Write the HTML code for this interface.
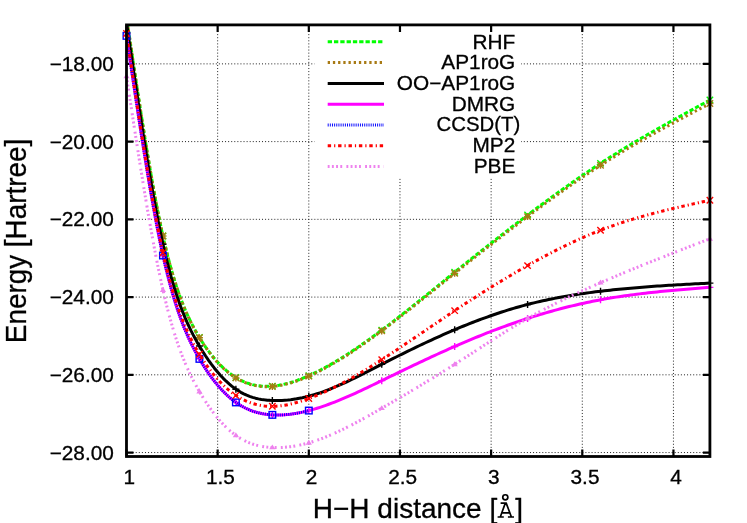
<!DOCTYPE html>
<html><head><meta charset="utf-8"><title>plot</title>
<style>
html,body{margin:0;padding:0;background:#fff;}
body{width:747px;height:523px;overflow:hidden;}
svg{display:block;will-change:transform;opacity:0.999;}
text{font-family:"Liberation Sans",sans-serif;fill:#000;stroke:#000;stroke-width:0.3px;}
</style></head><body>
<svg width="747" height="523" viewBox="0 0 747 523">
<rect width="747" height="523" fill="#fff"/>

<path d="M217.65,24.9V456.5M308.81,24.9V456.5M399.97,24.9V456.5M491.13,24.9V456.5M582.29,24.9V456.5M673.45,24.9V456.5M126.49,63.86H709.91M126.49,141.60H709.91M126.49,219.34H709.91M126.49,297.08H709.91M126.49,374.82H709.91M126.49,452.56H709.91" stroke="#222" stroke-width="1" stroke-dasharray="1 2.08" fill="none"/>
<rect x="314.5" y="27" width="206.5" height="150.5" fill="#fff"/>
<path d="M126.49,456.5V449.5M126.49,24.9V31.9M217.65,456.5V449.5M217.65,24.9V31.9M308.81,456.5V449.5M308.81,24.9V31.9M399.97,456.5V449.5M399.97,24.9V31.9M491.13,456.5V449.5M491.13,24.9V31.9M582.29,456.5V449.5M582.29,24.9V31.9M673.45,456.5V449.5M673.45,24.9V31.9M126.49,63.86H133.49M709.91,63.86H702.91M126.49,141.60H133.49M709.91,141.60H702.91M126.49,219.34H133.49M709.91,219.34H702.91M126.49,297.08H133.49M709.91,297.08H702.91M126.49,374.82H133.49M709.91,374.82H702.91M126.49,452.56H133.49M709.91,452.56H702.91" stroke="#000" stroke-width="2.2" fill="none"/>
<clipPath id="c"><rect x="126.49" y="24.9" width="587.42" height="431.60"/></clipPath>
<path d="M126.49,16.83 L129.42,36.66 L132.35,56.41 L135.29,75.99 L138.22,95.31 L141.15,114.28 L144.08,132.83 L147.01,150.85 L149.94,168.27 L152.88,185.00 L155.81,200.95 L158.74,216.05 L161.67,230.19 L164.60,243.30 L167.53,255.37 L170.47,266.48 L173.40,276.67 L176.33,286.02 L179.26,294.59 L182.19,302.44 L185.13,309.64 L188.06,316.25 L190.99,322.34 L193.92,327.97 L196.85,333.20 L199.78,338.10 L202.72,342.72 L205.65,347.07 L208.58,351.15 L211.51,354.98 L214.44,358.56 L217.38,361.88 L220.31,364.97 L223.24,367.82 L226.17,370.44 L229.10,372.83 L232.03,375.01 L234.97,376.97 L237.90,378.72 L240.83,380.28 L243.76,381.63 L246.69,382.80 L249.62,383.79 L252.56,384.61 L255.49,385.25 L258.42,385.74 L261.35,386.08 L264.28,386.27 L267.22,386.32 L270.15,386.24 L273.08,386.03 L276.01,385.70 L278.94,385.27 L281.87,384.72 L284.81,384.07 L287.74,383.33 L290.67,382.49 L293.60,381.57 L296.53,380.56 L299.46,379.48 L302.40,378.33 L305.33,377.12 L308.26,375.84 L311.19,374.51 L314.12,373.13 L317.06,371.70 L319.99,370.22 L322.92,368.69 L325.85,367.12 L328.78,365.49 L331.71,363.83 L334.65,362.13 L337.58,360.38 L340.51,358.59 L343.44,356.77 L346.37,354.91 L349.31,353.01 L352.24,351.08 L355.17,349.12 L358.10,347.13 L361.03,345.11 L363.96,343.06 L366.90,340.98 L369.83,338.88 L372.76,336.76 L375.69,334.61 L378.62,332.44 L381.55,330.26 L384.49,328.05 L387.42,325.83 L390.35,323.59 L393.28,321.34 L396.21,319.07 L399.15,316.79 L402.08,314.49 L405.01,312.18 L407.94,309.87 L410.87,307.54 L413.80,305.20 L416.74,302.86 L419.67,300.51 L422.60,298.15 L425.53,295.79 L428.46,293.42 L431.40,291.05 L434.33,288.67 L437.26,286.30 L440.19,283.92 L443.12,281.55 L446.05,279.17 L448.99,276.79 L451.92,274.42 L454.85,272.06 L457.78,269.69 L460.71,267.33 L463.64,264.98 L466.58,262.63 L469.51,260.28 L472.44,257.94 L475.37,255.61 L478.30,253.28 L481.24,250.96 L484.17,248.64 L487.10,246.33 L490.03,244.02 L492.96,241.72 L495.89,239.43 L498.83,237.14 L501.76,234.86 L504.69,232.59 L507.62,230.32 L510.55,228.06 L513.48,225.80 L516.42,223.56 L519.35,221.32 L522.28,219.09 L525.21,216.87 L528.14,214.65 L531.08,212.44 L534.01,210.24 L536.94,208.05 L539.87,205.87 L542.80,203.70 L545.73,201.53 L548.67,199.38 L551.60,197.24 L554.53,195.11 L557.46,192.99 L560.39,190.88 L563.33,188.78 L566.26,186.70 L569.19,184.63 L572.12,182.57 L575.05,180.52 L577.98,178.49 L580.92,176.47 L583.85,174.47 L586.78,172.48 L589.71,170.51 L592.64,168.55 L595.57,166.61 L598.51,164.68 L601.44,162.77 L604.37,160.88 L607.30,159.00 L610.23,157.14 L613.17,155.30 L616.10,153.46 L619.03,151.65 L621.96,149.84 L624.89,148.06 L627.82,146.28 L630.76,144.52 L633.69,142.76 L636.62,141.02 L639.55,139.30 L642.48,137.58 L645.41,135.87 L648.35,134.17 L651.28,132.48 L654.21,130.80 L657.14,129.13 L660.07,127.47 L663.01,125.82 L665.94,124.17 L668.87,122.53 L671.80,120.89 L674.73,119.26 L677.66,117.64 L680.60,116.02 L683.53,114.41 L686.46,112.80 L689.39,111.19 L692.32,109.59 L695.26,107.99 L698.19,106.39 L701.12,104.79 L704.05,103.20 L706.98,101.60 L709.91,100.01" stroke="#00ff00" stroke-width="3" stroke-dasharray="4.3 2" fill="none" stroke-linejoin="round" clip-path="url(#c)"/>
<path d="M159.75,232.85L166.15,239.25M159.75,239.25L166.15,232.85" stroke="#00ff00" stroke-width="1.4" fill="none"/>
<path d="M196.22,334.30L202.62,340.70M196.22,340.70L202.62,334.30" stroke="#00ff00" stroke-width="1.4" fill="none"/>
<path d="M232.68,374.34L239.08,380.74M232.68,380.74L239.08,374.34" stroke="#00ff00" stroke-width="1.4" fill="none"/>
<path d="M269.15,382.89L275.55,389.29M269.15,389.29L275.55,382.89" stroke="#00ff00" stroke-width="1.4" fill="none"/>
<path d="M305.61,372.40L312.01,378.80M305.61,378.80L312.01,372.40" stroke="#00ff00" stroke-width="1.4" fill="none"/>
<path d="M378.54,326.92L384.94,333.32M378.54,333.32L384.94,326.92" stroke="#00ff00" stroke-width="1.4" fill="none"/>
<path d="M451.47,269.00L457.87,275.40M451.47,275.40L457.87,269.00" stroke="#00ff00" stroke-width="1.4" fill="none"/>
<path d="M524.39,211.86L530.79,218.26M524.39,218.26L530.79,211.86" stroke="#00ff00" stroke-width="1.4" fill="none"/>
<path d="M597.32,160.17L603.72,166.57M597.32,166.57L603.72,160.17" stroke="#00ff00" stroke-width="1.4" fill="none"/>
<path d="M706.71,96.81L713.11,103.21M706.71,103.21L713.11,96.81" stroke="#00ff00" stroke-width="1.4" fill="none"/>
<path d="M126.49,16.83 L129.42,36.66 L132.35,56.41 L135.29,75.98 L138.22,95.30 L141.15,114.27 L144.08,132.81 L147.01,150.83 L149.94,168.25 L152.88,184.98 L155.81,200.94 L158.74,216.04 L161.67,230.18 L164.60,243.30 L167.53,255.39 L170.47,266.50 L173.40,276.71 L176.33,286.07 L179.26,294.66 L182.19,302.53 L185.13,309.74 L188.06,316.37 L190.99,322.48 L193.92,328.13 L196.85,333.38 L199.78,338.30 L202.72,342.94 L205.65,347.31 L208.58,351.41 L211.51,355.26 L214.44,358.85 L217.38,362.20 L220.31,365.30 L223.24,368.17 L226.17,370.80 L229.10,373.20 L232.03,375.39 L234.97,377.36 L237.90,379.12 L240.83,380.67 L243.76,382.03 L246.69,383.20 L249.62,384.18 L252.56,384.99 L255.49,385.64 L258.42,386.12 L261.35,386.46 L264.28,386.65 L267.22,386.70 L270.15,386.62 L273.08,386.42 L276.01,386.10 L278.94,385.68 L281.87,385.14 L284.81,384.51 L287.74,383.78 L290.67,382.96 L293.60,382.06 L296.53,381.07 L299.46,380.01 L302.40,378.88 L305.33,377.68 L308.26,376.42 L311.19,375.11 L314.12,373.74 L317.06,372.32 L319.99,370.85 L322.92,369.34 L325.85,367.77 L328.78,366.16 L331.71,364.50 L334.65,362.80 L337.58,361.06 L340.51,359.28 L343.44,357.47 L346.37,355.61 L349.31,353.72 L352.24,351.80 L355.17,349.84 L358.10,347.85 L361.03,345.84 L363.96,343.79 L366.90,341.72 L369.83,339.63 L372.76,337.51 L375.69,335.37 L378.62,333.21 L381.55,331.03 L384.49,328.84 L387.42,326.63 L390.35,324.40 L393.28,322.16 L396.21,319.90 L399.15,317.63 L402.08,315.35 L405.01,313.06 L407.94,310.76 L410.87,308.44 L413.80,306.12 L416.74,303.80 L419.67,301.46 L422.60,299.12 L425.53,296.77 L428.46,294.42 L431.40,292.07 L434.33,289.71 L437.26,287.36 L440.19,285.00 L443.12,282.64 L446.05,280.28 L448.99,277.93 L451.92,275.57 L454.85,273.22 L457.78,270.88 L460.71,268.54 L463.64,266.20 L466.58,263.87 L469.51,261.54 L472.44,259.22 L475.37,256.90 L478.30,254.59 L481.24,252.28 L484.17,249.98 L487.10,247.68 L490.03,245.39 L492.96,243.11 L495.89,240.83 L498.83,238.56 L501.76,236.29 L504.69,234.03 L507.62,231.78 L510.55,229.53 L513.48,227.30 L516.42,225.06 L519.35,222.84 L522.28,220.62 L525.21,218.41 L528.14,216.21 L531.08,214.01 L534.01,211.82 L536.94,209.65 L539.87,207.48 L542.80,205.32 L545.73,203.16 L548.67,201.02 L551.60,198.89 L554.53,196.78 L557.46,194.67 L560.39,192.57 L563.33,190.49 L566.26,188.42 L569.19,186.36 L572.12,184.32 L575.05,182.29 L577.98,180.27 L580.92,178.27 L583.85,176.29 L586.78,174.32 L589.71,172.37 L592.64,170.43 L595.57,168.51 L598.51,166.61 L601.44,164.72 L604.37,162.86 L607.30,161.01 L610.23,159.18 L613.17,157.36 L616.10,155.56 L619.03,153.78 L621.96,152.01 L624.89,150.25 L627.82,148.51 L630.76,146.78 L633.69,145.07 L636.62,143.37 L639.55,141.68 L642.48,140.00 L645.41,138.33 L648.35,136.68 L651.28,135.03 L654.21,133.40 L657.14,131.77 L660.07,130.15 L663.01,128.54 L665.94,126.94 L668.87,125.34 L671.80,123.76 L674.73,122.17 L677.66,120.60 L680.60,119.03 L683.53,117.46 L686.46,115.90 L689.39,114.34 L692.32,112.79 L695.26,111.24 L698.19,109.69 L701.12,108.14 L704.05,106.60 L706.98,105.05 L709.91,103.51" stroke="#a87a14" stroke-width="3" stroke-dasharray="2.3 2.9" fill="none" stroke-linejoin="round" clip-path="url(#c)"/>
<path d="M159.45,236.05H166.45M162.95,232.55V239.55" stroke="#a87a14" stroke-width="1.4" fill="none"/><path d="M159.75,232.85L166.15,239.25M159.75,239.25L166.15,232.85" stroke="#a87a14" stroke-width="1.4" fill="none"/>
<path d="M195.92,337.70H202.92M199.42,334.20V341.20" stroke="#a87a14" stroke-width="1.4" fill="none"/><path d="M196.22,334.50L202.62,340.90M196.22,340.90L202.62,334.50" stroke="#a87a14" stroke-width="1.4" fill="none"/>
<path d="M232.38,377.93H239.38M235.88,374.43V381.43" stroke="#a87a14" stroke-width="1.4" fill="none"/><path d="M232.68,374.73L239.08,381.13M232.68,381.13L239.08,374.73" stroke="#a87a14" stroke-width="1.4" fill="none"/>
<path d="M268.85,386.48H275.85M272.35,382.98V389.98" stroke="#a87a14" stroke-width="1.4" fill="none"/><path d="M269.15,383.28L275.55,389.68M269.15,389.68L275.55,383.28" stroke="#a87a14" stroke-width="1.4" fill="none"/>
<path d="M305.31,376.18H312.31M308.81,372.68V379.68" stroke="#a87a14" stroke-width="1.4" fill="none"/><path d="M305.61,372.98L312.01,379.38M305.61,379.38L312.01,372.98" stroke="#a87a14" stroke-width="1.4" fill="none"/>
<path d="M378.24,330.90H385.24M381.74,327.40V334.40" stroke="#a87a14" stroke-width="1.4" fill="none"/><path d="M378.54,327.70L384.94,334.10M378.54,334.10L384.94,327.70" stroke="#a87a14" stroke-width="1.4" fill="none"/>
<path d="M451.17,273.37H458.17M454.67,269.87V276.87" stroke="#a87a14" stroke-width="1.4" fill="none"/><path d="M451.47,270.17L457.87,276.57M451.47,276.57L457.87,270.17" stroke="#a87a14" stroke-width="1.4" fill="none"/>
<path d="M524.09,216.62H531.09M527.59,213.12V220.12" stroke="#a87a14" stroke-width="1.4" fill="none"/><path d="M524.39,213.42L530.79,219.82M524.39,219.82L530.79,213.42" stroke="#a87a14" stroke-width="1.4" fill="none"/>
<path d="M597.02,165.31H604.02M600.52,161.81V168.81" stroke="#a87a14" stroke-width="1.4" fill="none"/><path d="M597.32,162.11L603.72,168.51M597.32,168.51L603.72,162.11" stroke="#a87a14" stroke-width="1.4" fill="none"/>
<path d="M706.41,103.51H713.41M709.91,100.01V107.01" stroke="#a87a14" stroke-width="1.4" fill="none"/><path d="M706.71,100.31L713.11,106.71M706.71,106.71L713.11,100.31" stroke="#a87a14" stroke-width="1.4" fill="none"/>
<path d="M126.49,22.66 L129.42,42.74 L132.35,62.74 L135.29,82.55 L138.22,102.10 L141.15,121.30 L144.08,140.06 L147.01,158.28 L149.94,175.88 L152.88,192.77 L155.81,208.87 L158.74,224.08 L161.67,238.32 L164.60,251.50 L167.53,263.61 L170.47,274.74 L173.40,284.94 L176.33,294.28 L179.26,302.84 L182.19,310.69 L185.13,317.90 L188.06,324.52 L190.99,330.64 L193.92,336.33 L196.85,341.65 L199.78,346.67 L202.72,351.45 L205.65,355.99 L208.58,360.30 L211.51,364.37 L214.44,368.21 L217.38,371.82 L220.31,375.19 L223.24,378.33 L226.17,381.23 L229.10,383.91 L232.03,386.35 L234.97,388.56 L237.90,390.54 L240.83,392.30 L243.76,393.84 L246.69,395.20 L249.62,396.36 L252.56,397.35 L255.49,398.18 L258.42,398.87 L261.35,399.42 L264.28,399.84 L267.22,400.15 L270.15,400.37 L273.08,400.50 L276.01,400.55 L278.94,400.53 L281.87,400.43 L284.81,400.25 L287.74,400.01 L290.67,399.69 L293.60,399.30 L296.53,398.85 L299.46,398.32 L302.40,397.73 L305.33,397.07 L308.26,396.34 L311.19,395.55 L314.12,394.70 L317.06,393.79 L319.99,392.82 L322.92,391.80 L325.85,390.72 L328.78,389.60 L331.71,388.44 L334.65,387.23 L337.58,385.98 L340.51,384.70 L343.44,383.38 L346.37,382.03 L349.31,380.65 L352.24,379.24 L355.17,377.82 L358.10,376.37 L361.03,374.91 L363.96,373.43 L366.90,371.94 L369.83,370.44 L372.76,368.94 L375.69,367.43 L378.62,365.92 L381.55,364.42 L384.49,362.92 L387.42,361.43 L390.35,359.94 L393.28,358.46 L396.21,356.99 L399.15,355.52 L402.08,354.06 L405.01,352.62 L407.94,351.17 L410.87,349.74 L413.80,348.32 L416.74,346.91 L419.67,345.51 L422.60,344.12 L425.53,342.74 L428.46,341.37 L431.40,340.02 L434.33,338.68 L437.26,337.34 L440.19,336.03 L443.12,334.72 L446.05,333.43 L448.99,332.16 L451.92,330.90 L454.85,329.65 L457.78,328.42 L460.71,327.21 L463.64,326.01 L466.58,324.83 L469.51,323.67 L472.44,322.52 L475.37,321.39 L478.30,320.27 L481.24,319.18 L484.17,318.10 L487.10,317.04 L490.03,316.00 L492.96,314.98 L495.89,313.98 L498.83,313.00 L501.76,312.04 L504.69,311.10 L507.62,310.18 L510.55,309.27 L513.48,308.40 L516.42,307.54 L519.35,306.70 L522.28,305.89 L525.21,305.09 L528.14,304.32 L531.08,303.57 L534.01,302.85 L536.94,302.15 L539.87,301.46 L542.80,300.80 L545.73,300.16 L548.67,299.54 L551.60,298.93 L554.53,298.35 L557.46,297.78 L560.39,297.23 L563.33,296.70 L566.26,296.19 L569.19,295.69 L572.12,295.21 L575.05,294.74 L577.98,294.29 L580.92,293.85 L583.85,293.42 L586.78,293.01 L589.71,292.62 L592.64,292.23 L595.57,291.86 L598.51,291.49 L601.44,291.14 L604.37,290.80 L607.30,290.47 L610.23,290.15 L613.17,289.84 L616.10,289.53 L619.03,289.24 L621.96,288.95 L624.89,288.68 L627.82,288.41 L630.76,288.15 L633.69,287.90 L636.62,287.65 L639.55,287.42 L642.48,287.18 L645.41,286.96 L648.35,286.74 L651.28,286.53 L654.21,286.32 L657.14,286.12 L660.07,285.92 L663.01,285.73 L665.94,285.54 L668.87,285.36 L671.80,285.18 L674.73,285.01 L677.66,284.84 L680.60,284.67 L683.53,284.50 L686.46,284.34 L689.39,284.18 L692.32,284.02 L695.26,283.86 L698.19,283.70 L701.12,283.55 L704.05,283.39 L706.98,283.24 L709.91,283.09" stroke="#000" stroke-width="3" fill="none" stroke-linejoin="round" clip-path="url(#c)"/>
<path d="M159.45,244.22H166.45M162.95,240.72V247.72" stroke="#000" stroke-width="1.4" fill="none"/>
<path d="M195.92,346.06H202.92M199.42,342.56V349.56" stroke="#000" stroke-width="1.4" fill="none"/>
<path d="M232.38,389.20H239.38M235.88,385.70V392.70" stroke="#000" stroke-width="1.4" fill="none"/>
<path d="M268.85,400.47H275.85M272.35,396.97V403.97" stroke="#000" stroke-width="1.4" fill="none"/>
<path d="M305.31,396.20H312.31M308.81,392.70V399.70" stroke="#000" stroke-width="1.4" fill="none"/>
<path d="M378.24,364.33H385.24M381.74,360.83V367.83" stroke="#000" stroke-width="1.4" fill="none"/>
<path d="M451.17,329.73H458.17M454.67,326.23V333.23" stroke="#000" stroke-width="1.4" fill="none"/>
<path d="M524.09,304.47H531.09M527.59,300.97V307.97" stroke="#000" stroke-width="1.4" fill="none"/>
<path d="M597.02,291.25H604.02M600.52,287.75V294.75" stroke="#000" stroke-width="1.4" fill="none"/>
<path d="M706.41,283.09H713.41M709.91,279.59V286.59" stroke="#000" stroke-width="1.4" fill="none"/>
<path d="M126.49,35.87 L129.42,55.72 L132.35,75.48 L135.29,95.06 L138.22,114.39 L141.15,133.38 L144.08,151.95 L147.01,170.00 L149.94,187.45 L152.88,204.22 L155.81,220.23 L158.74,235.38 L161.67,249.59 L164.60,262.78 L167.53,274.95 L170.47,286.16 L173.40,296.47 L176.33,305.94 L179.26,314.65 L182.19,322.66 L185.13,330.02 L188.06,336.82 L190.99,343.09 L193.92,348.93 L196.85,354.38 L199.78,359.51 L202.72,364.37 L205.65,368.98 L208.58,373.33 L211.51,377.43 L214.44,381.29 L217.38,384.91 L220.31,388.29 L223.24,391.43 L226.17,394.35 L229.10,397.04 L232.03,399.51 L234.97,401.76 L237.90,403.80 L240.83,405.63 L243.76,407.27 L246.69,408.72 L249.62,409.99 L252.56,411.09 L255.49,412.04 L258.42,412.83 L261.35,413.49 L264.28,414.01 L267.22,414.42 L270.15,414.71 L273.08,414.89 L276.01,414.99 L278.94,414.99 L281.87,414.90 L284.81,414.73 L287.74,414.48 L290.67,414.15 L293.60,413.74 L296.53,413.27 L299.46,412.72 L302.40,412.12 L305.33,411.45 L308.26,410.72 L311.19,409.94 L314.12,409.11 L317.06,408.23 L319.99,407.31 L322.92,406.33 L325.85,405.32 L328.78,404.26 L331.71,403.17 L334.65,402.04 L337.58,400.87 L340.51,399.68 L343.44,398.45 L346.37,397.19 L349.31,395.91 L352.24,394.61 L355.17,393.28 L358.10,391.94 L361.03,390.57 L363.96,389.20 L366.90,387.81 L369.83,386.41 L372.76,385.00 L375.69,383.58 L378.62,382.16 L381.55,380.74 L384.49,379.32 L387.42,377.90 L390.35,376.47 L393.28,375.05 L396.21,373.64 L399.15,372.22 L402.08,370.81 L405.01,369.40 L407.94,368.00 L410.87,366.59 L413.80,365.20 L416.74,363.81 L419.67,362.42 L422.60,361.04 L425.53,359.66 L428.46,358.30 L431.40,356.94 L434.33,355.58 L437.26,354.24 L440.19,352.90 L443.12,351.58 L446.05,350.26 L448.99,348.95 L451.92,347.65 L454.85,346.36 L457.78,345.09 L460.71,343.82 L463.64,342.57 L466.58,341.33 L469.51,340.10 L472.44,338.88 L475.37,337.68 L478.30,336.49 L481.24,335.31 L484.17,334.14 L487.10,332.98 L490.03,331.84 L492.96,330.71 L495.89,329.60 L498.83,328.50 L501.76,327.41 L504.69,326.34 L507.62,325.28 L510.55,324.24 L513.48,323.21 L516.42,322.19 L519.35,321.19 L522.28,320.21 L525.21,319.24 L528.14,318.28 L531.08,317.34 L534.01,316.42 L536.94,315.51 L539.87,314.62 L542.80,313.74 L545.73,312.88 L548.67,312.04 L551.60,311.21 L554.53,310.40 L557.46,309.60 L560.39,308.82 L563.33,308.06 L566.26,307.31 L569.19,306.58 L572.12,305.87 L575.05,305.17 L577.98,304.49 L580.92,303.82 L583.85,303.17 L586.78,302.54 L589.71,301.92 L592.64,301.33 L595.57,300.74 L598.51,300.18 L601.44,299.63 L604.37,299.10 L607.30,298.59 L610.23,298.09 L613.17,297.60 L616.10,297.14 L619.03,296.68 L621.96,296.24 L624.89,295.82 L627.82,295.40 L630.76,295.00 L633.69,294.62 L636.62,294.24 L639.55,293.88 L642.48,293.52 L645.41,293.18 L648.35,292.85 L651.28,292.52 L654.21,292.21 L657.14,291.90 L660.07,291.61 L663.01,291.32 L665.94,291.03 L668.87,290.76 L671.80,290.49 L674.73,290.23 L677.66,289.97 L680.60,289.72 L683.53,289.47 L686.46,289.22 L689.39,288.98 L692.32,288.75 L695.26,288.51 L698.19,288.28 L701.12,288.05 L704.05,287.82 L706.98,287.59 L709.91,287.36" stroke="#ff00ff" stroke-width="3" fill="none" stroke-linejoin="round" clip-path="url(#c)"/>
<path d="M122.99,35.87H129.99M126.49,32.37V39.37" stroke="#ff00ff" stroke-width="1.4" fill="none"/>
<path d="M159.45,255.49H166.45M162.95,251.99V258.99" stroke="#ff00ff" stroke-width="1.4" fill="none"/>
<path d="M195.92,358.88H202.92M199.42,355.38V362.38" stroke="#ff00ff" stroke-width="1.4" fill="none"/>
<path d="M232.38,402.42H239.38M235.88,398.92V405.92" stroke="#ff00ff" stroke-width="1.4" fill="none"/>
<path d="M268.85,414.86H275.85M272.35,411.36V418.36" stroke="#ff00ff" stroke-width="1.4" fill="none"/>
<path d="M305.31,410.58H312.31M308.81,407.08V414.08" stroke="#ff00ff" stroke-width="1.4" fill="none"/>
<path d="M378.24,380.65H385.24M381.74,377.15V384.15" stroke="#ff00ff" stroke-width="1.4" fill="none"/>
<path d="M451.17,346.44H458.17M454.67,342.94V349.94" stroke="#ff00ff" stroke-width="1.4" fill="none"/>
<path d="M524.09,318.46H531.09M527.59,314.96V321.96" stroke="#ff00ff" stroke-width="1.4" fill="none"/>
<path d="M597.02,299.80H604.02M600.52,296.30V303.30" stroke="#ff00ff" stroke-width="1.4" fill="none"/>
<path d="M706.41,287.36H713.41M709.91,283.86V290.86" stroke="#ff00ff" stroke-width="1.4" fill="none"/>
<path d="M126.49,35.87 L128.54,49.74 L130.59,63.59 L132.64,77.37 L134.68,91.06 L136.73,104.64 L138.78,118.08 L140.83,131.34 L142.88,144.39 L144.93,157.21 L146.98,169.77 L149.02,182.04 L151.07,193.99 L153.12,205.59 L155.17,216.81 L157.22,227.63 L159.27,238.00 L161.32,247.92 L163.36,257.33 L165.41,266.24 L167.46,274.65 L169.51,282.60 L171.56,290.09 L173.61,297.16 L175.65,303.83 L177.70,310.11 L179.75,316.04 L181.80,321.62 L183.85,326.89 L185.90,331.87 L187.95,336.57 L189.99,341.02 L192.04,345.24 L194.09,349.26 L196.14,353.09 L198.19,356.75 L200.24,360.28 L202.29,363.68 L204.33,366.95 L206.38,370.09 L208.43,373.12 L210.48,376.02 L212.53,378.80 L214.58,381.46 L216.63,384.01 L218.67,386.43 L220.72,388.75 L222.77,390.95 L224.82,393.03 L226.87,395.01 L228.92,396.87 L230.97,398.63 L233.01,400.28 L235.06,401.83 L237.11,403.27 L239.16,404.61 L241.21,405.85 L243.26,407.00 L245.31,408.05 L247.35,409.02 L249.40,409.90 L251.45,410.69 L253.50,411.41 L255.55,412.05 L257.60,412.62 L259.65,413.12 L261.69,413.56 L263.74,413.92 L265.79,414.23 L267.84,414.49 L269.89,414.68 L271.94,414.83 L273.98,414.93 L276.03,414.99 L278.08,415.00 L280.13,414.96 L282.18,414.89 L284.23,414.77 L286.28,414.61 L288.32,414.42 L290.37,414.18 L292.42,413.91 L294.47,413.61 L296.52,413.27 L298.57,412.90 L300.62,412.49 L302.66,412.06 L304.71,411.59 L306.76,411.10 L308.81,410.58" stroke="#0000ff" stroke-width="3" stroke-dasharray="0.95 1.2" fill="none" stroke-linejoin="round" clip-path="url(#c)"/>
<rect x="123.19" y="32.57" width="6.60" height="6.60" stroke="#0000ff" stroke-width="1.4" fill="none"/>
<rect x="159.65" y="252.19" width="6.60" height="6.60" stroke="#0000ff" stroke-width="1.4" fill="none"/>
<rect x="196.12" y="355.58" width="6.60" height="6.60" stroke="#0000ff" stroke-width="1.4" fill="none"/>
<rect x="232.58" y="399.12" width="6.60" height="6.60" stroke="#0000ff" stroke-width="1.4" fill="none"/>
<rect x="269.05" y="411.56" width="6.60" height="6.60" stroke="#0000ff" stroke-width="1.4" fill="none"/>
<rect x="305.51" y="407.28" width="6.60" height="6.60" stroke="#0000ff" stroke-width="1.4" fill="none"/>
<path d="M126.49,33.54 L129.42,53.38 L132.35,73.14 L135.29,92.72 L138.22,112.04 L141.15,131.02 L144.08,149.56 L147.01,167.59 L149.94,185.01 L152.88,201.74 L155.81,217.69 L158.74,232.77 L161.67,246.91 L164.60,260.01 L167.53,272.07 L170.47,283.16 L173.40,293.34 L176.33,302.68 L179.26,311.24 L182.19,319.08 L185.13,326.28 L188.06,332.89 L190.99,338.99 L193.92,344.63 L196.85,349.89 L199.78,354.82 L202.72,359.48 L205.65,363.88 L208.58,368.03 L211.51,371.92 L214.44,375.58 L217.38,378.99 L220.31,382.18 L223.24,385.14 L226.17,387.87 L229.10,390.39 L232.03,392.70 L234.97,394.80 L237.90,396.71 L240.83,398.42 L243.76,399.94 L246.69,401.29 L249.62,402.46 L252.56,403.46 L255.49,404.30 L258.42,404.98 L261.35,405.52 L264.28,405.91 L267.22,406.16 L270.15,406.29 L273.08,406.29 L276.01,406.18 L278.94,405.95 L281.87,405.62 L284.81,405.19 L287.74,404.66 L290.67,404.04 L293.60,403.33 L296.53,402.55 L299.46,401.69 L302.40,400.77 L305.33,399.78 L308.26,398.73 L311.19,397.63 L314.12,396.49 L317.06,395.29 L319.99,394.05 L322.92,392.76 L325.85,391.43 L328.78,390.06 L331.71,388.64 L334.65,387.19 L337.58,385.69 L340.51,384.17 L343.44,382.60 L346.37,381.01 L349.31,379.38 L352.24,377.72 L355.17,376.03 L358.10,374.32 L361.03,372.57 L363.96,370.81 L366.90,369.02 L369.83,367.21 L372.76,365.38 L375.69,363.53 L378.62,361.66 L381.55,359.78 L384.49,357.88 L387.42,355.97 L390.35,354.05 L393.28,352.12 L396.21,350.17 L399.15,348.22 L402.08,346.26 L405.01,344.29 L407.94,342.31 L410.87,340.33 L413.80,338.34 L416.74,336.35 L419.67,334.36 L422.60,332.37 L425.53,330.37 L428.46,328.37 L431.40,326.38 L434.33,324.38 L437.26,322.39 L440.19,320.41 L443.12,318.43 L446.05,316.45 L448.99,314.48 L451.92,312.52 L454.85,310.56 L457.78,308.62 L460.71,306.68 L463.64,304.76 L466.58,302.84 L469.51,300.94 L472.44,299.04 L475.37,297.16 L478.30,295.28 L481.24,293.42 L484.17,291.57 L487.10,289.73 L490.03,287.90 L492.96,286.09 L495.89,284.28 L498.83,282.49 L501.76,280.71 L504.69,278.94 L507.62,277.19 L510.55,275.45 L513.48,273.72 L516.42,272.00 L519.35,270.30 L522.28,268.62 L525.21,266.94 L528.14,265.29 L531.08,263.64 L534.01,262.01 L536.94,260.40 L539.87,258.80 L542.80,257.22 L545.73,255.66 L548.67,254.11 L551.60,252.58 L554.53,251.08 L557.46,249.59 L560.39,248.12 L563.33,246.66 L566.26,245.23 L569.19,243.83 L572.12,242.44 L575.05,241.07 L577.98,239.73 L580.92,238.41 L583.85,237.12 L586.78,235.85 L589.71,234.60 L592.64,233.38 L595.57,232.18 L598.51,231.01 L601.44,229.87 L604.37,228.75 L607.30,227.66 L610.23,226.60 L613.17,225.56 L616.10,224.54 L619.03,223.55 L621.96,222.58 L624.89,221.63 L627.82,220.70 L630.76,219.79 L633.69,218.90 L636.62,218.03 L639.55,217.18 L642.48,216.35 L645.41,215.53 L648.35,214.73 L651.28,213.94 L654.21,213.17 L657.14,212.41 L660.07,211.67 L663.01,210.93 L665.94,210.21 L668.87,209.50 L671.80,208.80 L674.73,208.11 L677.66,207.43 L680.60,206.76 L683.53,206.09 L686.46,205.43 L689.39,204.77 L692.32,204.12 L695.26,203.48 L698.19,202.84 L701.12,202.20 L704.05,201.56 L706.98,200.93 L709.91,200.29" stroke="#ff0000" stroke-width="3" stroke-dasharray="3.4 3 1.2 2.8" fill="none" stroke-linejoin="round" clip-path="url(#c)"/>
<path d="M123.29,30.34L129.69,36.74M123.29,36.74L129.69,30.34" stroke="#ff0000" stroke-width="1.4" fill="none"/>
<path d="M159.75,249.57L166.15,255.97M159.75,255.97L166.15,249.57" stroke="#ff0000" stroke-width="1.4" fill="none"/>
<path d="M196.22,351.02L202.62,357.42M196.22,357.42L202.62,351.02" stroke="#ff0000" stroke-width="1.4" fill="none"/>
<path d="M232.68,392.22L239.08,398.62M232.68,398.62L239.08,392.22" stroke="#ff0000" stroke-width="1.4" fill="none"/>
<path d="M269.15,403.10L275.55,409.50M269.15,409.50L275.55,403.10" stroke="#ff0000" stroke-width="1.4" fill="none"/>
<path d="M305.61,395.33L312.01,401.73M305.61,401.73L312.01,395.33" stroke="#ff0000" stroke-width="1.4" fill="none"/>
<path d="M378.54,356.46L384.94,362.86M378.54,362.86L384.94,356.46" stroke="#ff0000" stroke-width="1.4" fill="none"/>
<path d="M451.47,307.48L457.87,313.88M451.47,313.88L457.87,307.48" stroke="#ff0000" stroke-width="1.4" fill="none"/>
<path d="M524.39,262.40L530.79,268.80M524.39,268.80L530.79,262.40" stroke="#ff0000" stroke-width="1.4" fill="none"/>
<path d="M597.32,227.02L603.72,233.42M597.32,233.42L603.72,227.02" stroke="#ff0000" stroke-width="1.4" fill="none"/>
<path d="M706.71,197.09L713.11,203.49M706.71,203.49L713.11,197.09" stroke="#ff0000" stroke-width="1.4" fill="none"/>
<path d="M126.49,76.30 L129.42,95.60 L132.35,114.83 L135.29,133.89 L138.22,152.70 L141.15,171.18 L144.08,189.24 L147.01,206.81 L149.94,223.80 L152.88,240.13 L155.81,255.72 L158.74,270.48 L161.67,284.33 L164.60,297.19 L167.53,309.07 L170.47,320.01 L173.40,330.08 L176.33,339.35 L179.26,347.89 L182.19,355.74 L185.13,362.98 L188.06,369.67 L190.99,375.86 L193.92,381.64 L196.85,387.05 L199.78,392.16 L202.72,397.02 L205.65,401.64 L208.58,406.01 L211.51,410.15 L214.44,414.05 L217.38,417.71 L220.31,421.14 L223.24,424.33 L226.17,427.29 L229.10,430.02 L232.03,432.52 L234.97,434.79 L237.90,436.84 L240.83,438.67 L243.76,440.29 L246.69,441.72 L249.62,442.96 L252.56,444.03 L255.49,444.93 L258.42,445.68 L261.35,446.29 L264.28,446.77 L267.22,447.13 L270.15,447.38 L273.08,447.54 L276.01,447.60 L278.94,447.58 L281.87,447.47 L284.81,447.28 L287.74,447.01 L290.67,446.66 L293.60,446.23 L296.53,445.73 L299.46,445.15 L302.40,444.50 L305.33,443.78 L308.26,443.00 L311.19,442.15 L314.12,441.23 L317.06,440.25 L319.99,439.22 L322.92,438.13 L325.85,436.98 L328.78,435.79 L331.71,434.54 L334.65,433.25 L337.58,431.92 L340.51,430.54 L343.44,429.13 L346.37,427.68 L349.31,426.19 L352.24,424.68 L355.17,423.13 L358.10,421.56 L361.03,419.97 L363.96,418.35 L366.90,416.72 L369.83,415.07 L372.76,413.40 L375.69,411.73 L378.62,410.04 L381.55,408.35 L384.49,406.66 L387.42,404.96 L390.35,403.26 L393.28,401.55 L396.21,399.84 L399.15,398.12 L402.08,396.40 L405.01,394.67 L407.94,392.94 L410.87,391.20 L413.80,389.45 L416.74,387.70 L419.67,385.94 L422.60,384.17 L425.53,382.40 L428.46,380.62 L431.40,378.83 L434.33,377.03 L437.26,375.23 L440.19,373.41 L443.12,371.59 L446.05,369.76 L448.99,367.92 L451.92,366.07 L454.85,364.21 L457.78,362.34 L460.71,360.46 L463.64,358.57 L466.58,356.68 L469.51,354.79 L472.44,352.89 L475.37,350.99 L478.30,349.09 L481.24,347.19 L484.17,345.29 L487.10,343.40 L490.03,341.51 L492.96,339.64 L495.89,337.76 L498.83,335.90 L501.76,334.05 L504.69,332.22 L507.62,330.39 L510.55,328.59 L513.48,326.79 L516.42,325.02 L519.35,323.27 L522.28,321.54 L525.21,319.83 L528.14,318.14 L531.08,316.48 L534.01,314.85 L536.94,313.24 L539.87,311.65 L542.80,310.08 L545.73,308.53 L548.67,307.01 L551.60,305.50 L554.53,304.02 L557.46,302.55 L560.39,301.10 L563.33,299.67 L566.26,298.25 L569.19,296.86 L572.12,295.47 L575.05,294.10 L577.98,292.74 L580.92,291.40 L583.85,290.07 L586.78,288.75 L589.71,287.44 L592.64,286.14 L595.57,284.85 L598.51,283.57 L601.44,282.30 L604.37,281.04 L607.30,279.78 L610.23,278.53 L613.17,277.28 L616.10,276.05 L619.03,274.82 L621.96,273.59 L624.89,272.37 L627.82,271.16 L630.76,269.96 L633.69,268.75 L636.62,267.56 L639.55,266.37 L642.48,265.18 L645.41,264.00 L648.35,262.82 L651.28,261.65 L654.21,260.48 L657.14,259.32 L660.07,258.16 L663.01,257.00 L665.94,255.84 L668.87,254.69 L671.80,253.54 L674.73,252.40 L677.66,251.25 L680.60,250.11 L683.53,248.97 L686.46,247.83 L689.39,246.70 L692.32,245.56 L695.26,244.43 L698.19,243.30 L701.12,242.17 L704.05,241.04 L706.98,239.91 L709.91,238.77" stroke="#ee82ee" stroke-width="3" stroke-dasharray="1.9 2.3 1.9 2.3 1.9 2.3 1.9 4.2" fill="none" stroke-linejoin="round" clip-path="url(#c)"/>
<path d="M126.49,73.20L129.59,78.16L123.39,78.16Z" fill="#ee82ee"/>
<path d="M162.95,286.98L166.05,291.94L159.85,291.94Z" fill="#ee82ee"/>
<path d="M199.42,388.43L202.52,393.39L196.32,393.39Z" fill="#ee82ee"/>
<path d="M235.88,432.36L238.98,437.32L232.78,437.32Z" fill="#ee82ee"/>
<path d="M272.35,444.41L275.45,449.37L269.25,449.37Z" fill="#ee82ee"/>
<path d="M308.81,439.74L311.91,444.70L305.71,444.70Z" fill="#ee82ee"/>
<path d="M381.74,405.15L384.84,410.11L378.64,410.11Z" fill="#ee82ee"/>
<path d="M454.67,361.23L457.77,366.19L451.57,366.19Z" fill="#ee82ee"/>
<path d="M527.59,315.36L530.69,320.32L524.49,320.32Z" fill="#ee82ee"/>
<path d="M600.52,279.60L603.62,284.56L597.42,284.56Z" fill="#ee82ee"/>
<path d="M709.91,235.67L713.01,240.63L706.81,240.63Z" fill="#ee82ee"/>
<rect x="126.49" y="24.9" width="583.42" height="431.60" fill="none" stroke="#000" stroke-width="2.8"/>
<path d="M327.7,41.8H384" fill="none" stroke="#00ff00" stroke-width="3" stroke-dasharray="4.3 2"/>
<text transform="translate(515.3,48.60) scale(1.04,1)" font-size="20" text-anchor="end">RHF</text>
<path d="M327.7,62.6H384" fill="none" stroke="#a87a14" stroke-width="3" stroke-dasharray="2.3 2.9"/>
<text transform="translate(515.3,69.30) scale(1.04,1)" font-size="20" text-anchor="end">AP1roG</text>
<path d="M327.7,83.4H384" fill="none" stroke="#000" stroke-width="3"/>
<text transform="translate(515.3,90.00) scale(1.04,1)" font-size="20" text-anchor="end">OO−AP1roG</text>
<path d="M327.7,104.2H384" fill="none" stroke="#ff00ff" stroke-width="3"/>
<text transform="translate(515.3,110.70) scale(1.04,1)" font-size="20" text-anchor="end">DMRG</text>
<path d="M327.7,124.9H384" fill="none" stroke="#0000ff" stroke-width="3" stroke-dasharray="0.95 1.2"/>
<text transform="translate(520.2,131.40) scale(1.018,1)" font-size="20" text-anchor="end">CCSD(T)</text>
<path d="M327.7,145.7H384" fill="none" stroke="#ff0000" stroke-width="3" stroke-dasharray="3.4 3 1.2 2.8"/>
<text transform="translate(515.3,152.10) scale(1.04,1)" font-size="20" text-anchor="end">MP2</text>
<path d="M327.7,166.5H384" fill="none" stroke="#ee82ee" stroke-width="3" stroke-dasharray="1.9 2.3 1.9 2.3 1.9 2.3 1.9 4.2"/>
<text transform="translate(515.3,172.80) scale(1.04,1)" font-size="20" text-anchor="end">PBE</text>
<text transform="translate(113.8,70.8) scale(1.04,1)" font-size="20" text-anchor="end">−18.00</text>
<text transform="translate(113.8,148.5) scale(1.04,1)" font-size="20" text-anchor="end">−20.00</text>
<text transform="translate(113.8,226.2) scale(1.04,1)" font-size="20" text-anchor="end">−22.00</text>
<text transform="translate(113.8,304.0) scale(1.04,1)" font-size="20" text-anchor="end">−24.00</text>
<text transform="translate(113.8,381.7) scale(1.04,1)" font-size="20" text-anchor="end">−26.00</text>
<text transform="translate(113.8,459.5) scale(1.04,1)" font-size="20" text-anchor="end">−28.00</text>
<text transform="translate(129.2,484.3) scale(1.04,1)" font-size="20" text-anchor="middle">1</text>
<text transform="translate(220.4,484.3) scale(1.04,1)" font-size="20" text-anchor="middle">1.5</text>
<text transform="translate(311.5,484.3) scale(1.04,1)" font-size="20" text-anchor="middle">2</text>
<text transform="translate(402.7,484.3) scale(1.04,1)" font-size="20" text-anchor="middle">2.5</text>
<text transform="translate(493.8,484.3) scale(1.04,1)" font-size="20" text-anchor="middle">3</text>
<text transform="translate(585.0,484.3) scale(1.04,1)" font-size="20" text-anchor="middle">3.5</text>
<text transform="translate(676.1,484.3) scale(1.04,1)" font-size="20" text-anchor="middle">4</text>
<text x="312.8" y="517.7" font-size="28">H−H distance [</text>
<text x="515.2" y="517.7" font-size="28">]</text>
<g fill="none" stroke="#000" stroke-width="1.7" stroke-linecap="butt" stroke-linejoin="miter"><path d="M497.6,517H503.8M507.9,517H514M500.3,517L505.3,503.1M511.4,517L506.2,503.1M500.6,503.1H506.8M502.3,512.9H509.6"/><circle cx="505.3" cy="497.3" r="2.55"/></g>
<text transform="translate(26.3,241) rotate(-90) scale(0.995,1.03)" font-size="28" text-anchor="middle">Energy [Hartree]</text>
</svg></body></html>
